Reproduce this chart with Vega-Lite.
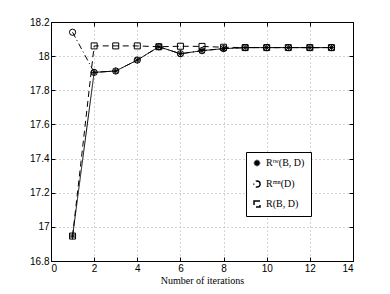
{
  "$schema": "https://vega.github.io/schema/vega-lite/v6.json",
  "width": 302,
  "height": 239,
  "autosize": "none",
  "padding": {"left": 51, "top": 22, "right": 37, "bottom": 33},
  "background": "white",
  "config": {
    "view": {"stroke": "black", "strokeWidth": 1},
    "axis": {
      "domainColor": "black",
      "tickColor": "black",
      "labelFont": "Liberation Sans",
      "labelFontSize": 10,
      "labelColor": "black",
      "titleFont": "Liberation Serif",
      "titleFontSize": 10,
      "titleFontWeight": "normal",
      "titleColor": "black",
      "gridColor": "#aaaaaa",
      "gridDash": [1, 3],
      "gridOpacity": 1
    }
  },
  "data": {
    "values": [
      {"x": 1, "s": "tw", "m": "tw", "y": 16.946}, {"x": 2, "s": "tw", "m": "tw", "y": 17.905}, {"x": 3, "s": "tw", "m": "tw", "y": 17.913},
      {"x": 4, "s": "tw", "m": "tw", "y": 17.977}, {"x": 5, "s": "tw", "m": "tw", "y": 18.055}, {"x": 6, "s": "tw", "m": "tw", "y": 18.014},
      {"x": 7, "s": "tw", "m": "tw", "y": 18.032}, {"x": 8, "s": "tw", "m": "tw", "y": 18.044}, {"x": 9, "s": "tw", "m": "tw", "y": 18.05},
      {"x": 10, "s": "tw", "m": "tw", "y": 18.05}, {"x": 11, "s": "tw", "m": "tw", "y": 18.05}, {"x": 12, "s": "tw", "m": "tw", "y": 18.05},
      {"x": 13, "s": "tw", "m": "tw", "y": 18.05},
      {"x": 1, "s": "mn", "m": "mn", "y": 18.14}, {"x": 2, "s": "mn", "m": "mn", "y": 17.905}, {"x": 3, "s": "mn", "m": "mn", "y": 17.913},
      {"x": 4, "s": "mn", "m": "mn", "y": 17.977}, {"x": 5, "s": "mn", "m": "mn", "y": 18.055}, {"x": 6, "s": "mn", "m": "mn", "y": 18.014},
      {"x": 7, "s": "mn", "m": "mn", "y": 18.032}, {"x": 8, "s": "mn", "m": "mn", "y": 18.044}, {"x": 9, "s": "mn", "m": "mn", "y": 18.05},
      {"x": 10, "s": "mn", "m": "mn", "y": 18.05}, {"x": 11, "s": "mn", "m": "mn", "y": 18.05}, {"x": 12, "s": "mn", "m": "mn", "y": 18.05},
      {"x": 13, "s": "mn", "m": "mn", "y": 18.05},
      {"x": 1, "s": "r", "m": "r", "y": 16.946}, {"x": 2, "s": "r", "m": "r", "y": 18.06}, {"x": 3, "s": "r", "m": "r", "y": 18.06},
      {"x": 4, "s": "r", "m": "r", "y": 18.06}, {"x": 5, "s": "r", "m": "r", "y": 18.055}, {"x": 6, "s": "r", "m": "r", "y": 18.058},
      {"x": 7, "s": "r", "m": "r", "y": 18.057}, {"x": 8, "s": "r", "m": "r", "y": 18.052}, {"x": 9, "s": "r", "m": "r", "y": 18.05},
      {"x": 10, "s": "r", "m": "r", "y": 18.05}, {"x": 11, "s": "r", "m": "r", "y": 18.05}, {"x": 12, "s": "r", "m": "r", "y": 18.05},
      {"x": 13, "s": "r", "m": "r", "y": 18.05}
    ]
  },
  "layer": [
    {
      "mark": {"type": "line", "color": "black", "strokeWidth": 1},
      "encoding": {
        "x": {
          "field": "x", "type": "quantitative",
          "scale": {"domain": [0, 14], "nice": false},
          "axis": {"orient": "bottom", "values": [0, 2, 4, 6, 8, 10, 12, 14], "title": "Number of iterations", "tickSize": -4, "labelPadding": 6, "titlePadding": 2}
        },
        "y": {
          "field": "y", "type": "quantitative",
          "scale": {"domain": [16.8, 18.2], "nice": false, "zero": false},
          "axis": {"orient": "left", "values": [16.8, 17, 17.2, 17.4, 17.6, 17.8, 18, 18.2], "format": ".1~f", "title": null, "tickSize": -4, "labelPadding": 6}
        },
        "strokeDash": {
          "field": "s", "type": "nominal",
          "scale": {"domain": ["tw", "mn", "r"], "range": [[1, 0], [6, 3, 1, 3], [6, 4]]},
          "legend": {
            "title": null,
            "orient": "none",
            "legendX": 195,
            "legendY": 130,
            "strokeColor": "black",
            "fillColor": "white",
            "padding": 6,
            "rowPadding": 7,
            "symbolSize": 729,
            "labelOffset": 4,
            "labelFont": "Liberation Serif",
            "labelFontSize": 10,
            "labelColor": "black",
            "labelExpr": "datum.value === 'tw' ? 'Rᵗʷ(B, D)' : datum.value === 'mn' ? 'Rᵐⁿ(D)' : 'R(B, D)'",
            "encode": {
              "symbols": {
                "shape": {"signal": "datum.value === 'tw' ? 'M-1,0L1,0M-0.15,0L0.15,0M0,-0.15L0,0.15M-0.11,-0.11L0.11,0.11M-0.11,0.11L0.11,-0.11' : datum.value === 'mn' ? 'M-1,0L-0.15,0M0.15,0L1,0M-0.15,0A0.15,0.15 0 1,1 0.15,0A0.15,0.15 0 1,1 -0.15,0' : 'M-1,0L1,0M-0.13,-0.13L0.13,-0.13L0.13,0.13L-0.13,0.13Z'"},
                "size": {"value": 729},
                "fill": {"value": "transparent"},
                "stroke": {"value": "black"},
                "strokeWidth": {"value": 1}
              }
            }
          }
        }
      }
    },
    {
      "mark": {"type": "point", "filled": false, "color": "black", "strokeWidth": 1, "opacity": 1},
      "encoding": {
        "x": {
          "field": "x", "type": "quantitative",
          "axis": {"orient": "top", "values": [0, 2, 4, 6, 8, 10, 12, 14], "labels": false, "grid": false, "tickSize": -4, "title": null}
        },
        "y": {
          "field": "y", "type": "quantitative",
          "axis": {"orient": "right", "values": [16.8, 17, 17.2, 17.4, 17.6, 17.8, 18, 18.2], "labels": false, "grid": false, "tickSize": -4, "title": null}
        },
        "shape": {
          "field": "m", "type": "nominal",
          "scale": {"domain": ["tw", "mn", "r"], "range": ["M-1,0L1,0M0,-1L0,1M-0.7,-0.7L0.7,0.7M-0.7,0.7L0.7,-0.7", "circle", "square"]},
          "legend": null
        },
        "size": {
          "field": "m", "type": "nominal",
          "scale": {"domain": ["tw", "mn", "r"], "range": [42, 36, 32]},
          "legend": null
        }
      }
    }
  ],
  "resolve": {"axis": {"x": "independent", "y": "independent"}}
}
